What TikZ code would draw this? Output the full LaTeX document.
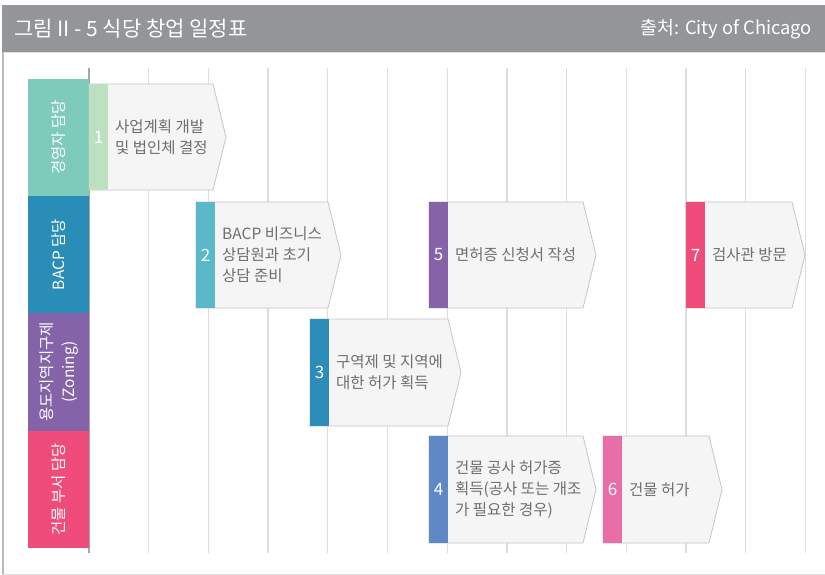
\documentclass[tikz,border=0pt]{standalone}
\usepackage{fontspec}
\setmainfont{Noto Sans CJK KR}
\definecolor{headgray}{HTML}{939598}
\definecolor{gridgray}{HTML}{DEDEDE}
\definecolor{axisgray}{HTML}{A7A7A7}
\definecolor{boxfill}{HTML}{F5F5F5}
\definecolor{boxline}{HTML}{C6C6C6}
\definecolor{txtgray}{HTML}{6D6E71}
\definecolor{laneA}{HTML}{7ECBBB}
\definecolor{laneB}{HTML}{2A8DB8}
\definecolor{laneC}{HTML}{8463A8}
\definecolor{laneD}{HTML}{EF4C7A}
\definecolor{stripA}{HTML}{BDE0C1}
\definecolor{stripB}{HTML}{5BB8C8}
\definecolor{stripC}{HTML}{2B8DB8}
\definecolor{stripD}{HTML}{5F89C6}
\definecolor{stripE}{HTML}{8663A8}
\definecolor{stripF}{HTML}{E86EA8}
\definecolor{stripG}{HTML}{EF4C7A}
\tikzset{
  gridline/.style={draw=gridgray, line width=1.3pt},
  tasktext/.style={anchor=west, align=left, text=txtgray, font=\fontsize{15.5}{21}\selectfont, inner sep=0pt},
  numtext/.style={text=white, font=\fontsize{17}{18}\selectfont, inner sep=0pt},
  lanetext/.style={text=white, rotate=90, align=center, font=\fontsize{15.5}{22}\selectfont, inner sep=0pt},
  taskshape/.style={fill=boxfill, draw=boxline, line width=0.8pt}
}
% #1 name, #2 x0, #3 xr, #4 xt, #5 y0, #6 y1, #7 color, #8 number, #9 text
\newcommand\taskbox[9]{%
  \path[taskshape] (#2,#5) -- (#3,#5) -- (#4,{(#5+#6)/2}) -- (#3,#6) -- (#2,#6) -- cycle;
  \fill[#7] (#2,#5) rectangle ({#2+19},#6);
  \node[numtext] (n#1) at ({#2+9.5},{(#5+#6)/2}) {#8};
  \node[tasktext] (t#1) at ({#2+26},{(#5+#6)/2}) {#9};
}
\begin{document}
\begin{tikzpicture}[x=1pt,y=-1pt]
\useasboundingbox (0,0) rectangle (825,575);
\fill[white] (0,0) rectangle (825,575);
% header
\fill[headgray] (2,5) rectangle (825,52);
\draw[draw=gridgray, line width=1pt] (2,52.5) -- (825,52.5);
\node[anchor=west, text=white, font=\fontsize{21}{23}\selectfont, inner sep=0pt] (title) at (14,29) {그림 II - 5 식당 창업 일정표};
\node[anchor=east, text=white, font=\fontsize{18.3}{20}\selectfont, inner sep=0pt] (source) at (812,29) {출처: City of Chicago};
% frame
\fill[axisgray!80] (2,52) rectangle (4,575);
\draw[draw=gridgray, line width=1pt] (2,574) -- (825,574);
% grid
\foreach \k in {1,...,12} {
  \draw[gridline] ({89+59.7*\k},68) -- ({89+59.7*\k},553);
}
\draw[draw=axisgray, line width=1.5pt] (89,68) -- (89,553);
% lanes
\fill[laneA] (28,79) rectangle (89,196);
\fill[laneB] (28,196) rectangle (89,313);
\fill[laneC] (28,313) rectangle (89,431);
\fill[laneD] (28,431) rectangle (89,548);
\node[lanetext] (laneA) at (58.5,137.5) {경영자 담당};
\node[lanetext] (laneB) at (58.5,254.5) {BACP 담당};
\node[lanetext] (laneC) at (59,372) {용도지역지구제\\(Zoning)};
\node[lanetext] (laneD) at (58.5,489.5) {건물 부서 담당};
% tasks
\taskbox{1}{89}{213}{226}{84}{190}{stripA}{1}{사업계획 개발\\및 법인체 결정}
\taskbox{2}{196}{328}{341}{202}{308}{stripB}{2}{BACP 비즈니스\\상담원과 초기\\상담 준비}
\taskbox{3}{310}{448}{461}{319}{426}{stripC}{3}{구역제 및 지역에\\대한 허가 획득}
\taskbox{5}{429}{583}{596}{202}{308}{stripE}{5}{면허증 신청서 작성}
\taskbox{7}{686}{792}{805}{202}{308}{stripG}{7}{검사관 방문}
\taskbox{4}{429}{583}{596}{436}{543}{stripD}{4}{건물 공사 허가증\\획득(공사 또는 개조\\가 필요한 경우)}
\taskbox{6}{603}{709}{722}{436}{543}{stripF}{6}{건물 허가}
\end{tikzpicture}
\end{document}
